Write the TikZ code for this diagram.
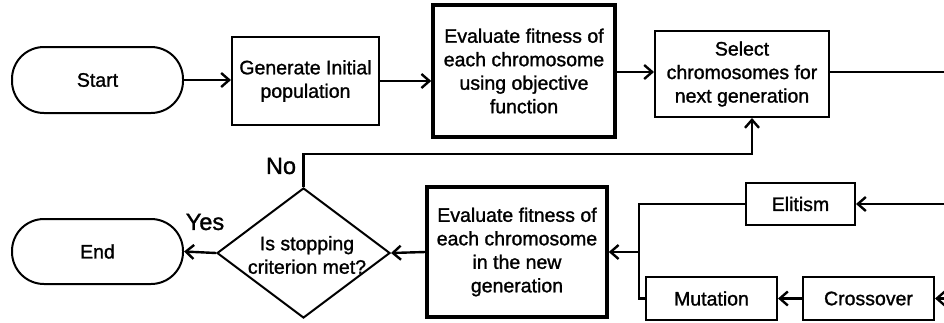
\documentclass[tikz,border=0pt]{standalone}
\usepackage{fontspec}
\setmainfont{Liberation Sans}
\font\hvmain="Liberation Sans:embolden=1.3" at 19.5pt
\font\hvlbl="Liberation Sans:embolden=1.3" at 23.5pt
\usetikzlibrary{arrows.meta,shapes.geometric,calc}
\begin{document}
\begin{tikzpicture}[x=1pt,y=-1pt,
  every node/.style={font={\hvmain\baselineskip=23.5pt}},
  box/.style={draw, line width=2pt, inner sep=0pt, align=center},
  thickbox/.style={box, line width=3.5pt},
  term/.style={box, rounded corners=32pt},
  dia/.style={draw, diamond, line width=2pt, inner sep=0pt, minimum width=173pt, minimum height=130pt},
  arr/.style={line width=2.4pt, -{Straight Barb[length=8pt,width=14pt,line width=2.4pt]}},
  ln/.style={line width=2.4pt},
  lbl/.style={inner sep=0pt, font=\hvlbl}]
\useasboundingbox (0,0) rectangle (944,322);
\clip (0,0) rectangle (944,322);
\node[term, minimum width=171pt, minimum height=66pt] (start) at (97.5,80) {Start};
\node[box, minimum width=147pt, minimum height=88pt] (gen) at (305.5,81) {Generate Initial\\population};
\node[thickbox, minimum width=182pt, minimum height=132pt] (eval1) at (524,71) {Evaluate fitness of\\each chromosome\\using objective\\function};
\node[box, minimum width=174pt, minimum height=86pt] (select) at (742,74) {Select\\chromosomes for\\next generation};
\node[dia] (decide) at (303.5,253) {};
\node[inner sep=0pt, align=center] (dtext) at (307,255) {Is stopping\\criterion met?};
\node[term, minimum width=171pt, minimum height=65pt] (endn) at (97.5,251.5) {End};
\node[thickbox, minimum width=180pt, minimum height=130pt] (eval2) at (517,252) {Evaluate fitness of\\each chromosome\\in the new\\generation};
\node[box, minimum width=109pt, minimum height=42pt] (elit) at (800.5,204) {Elitism};
\node[box, minimum width=131pt, minimum height=43pt] (mut) at (711.5,298.5) {Mutation};
\node[box, minimum width=131pt, minimum height=43pt] (cross) at (868.5,298.5) {Crossover};
\node[lbl] (no) at (281,166) {No};
\node[lbl] (yes) at (205,222) {Yes};
\coordinate (r1) at (944,72);
\coordinate (r2) at (944,204);
\coordinate (r3) at (944,298.5);
\coordinate (j) at (639,252);
\draw[arr] (start.east) -- (start.east -| gen.west);
\draw[arr] (gen.east) -- (gen.east -| eval1.west);
\draw[arr] (r1 -| eval1.east) -- (r1 -| select.west);
\draw[ln] (r1 -| select.east) -- (r1);
\draw[arr] (decide.north) -- ++(0,-33) -| ([xshift=10pt]select.south);
\draw[arr] (decide.west) -- (endn.east);
\draw[arr] (eval2.west) -- (decide.east);
\draw[ln] (elit.west) -| (j) |- (mut.west);
\draw[arr] (j) -- (eval2.east);
\draw[arr] (cross.west) -- (mut.east);
\draw[arr] (r2) -- (elit.east);
\draw[arr] (r3) -- (cross.east);
\end{tikzpicture}
\end{document}
